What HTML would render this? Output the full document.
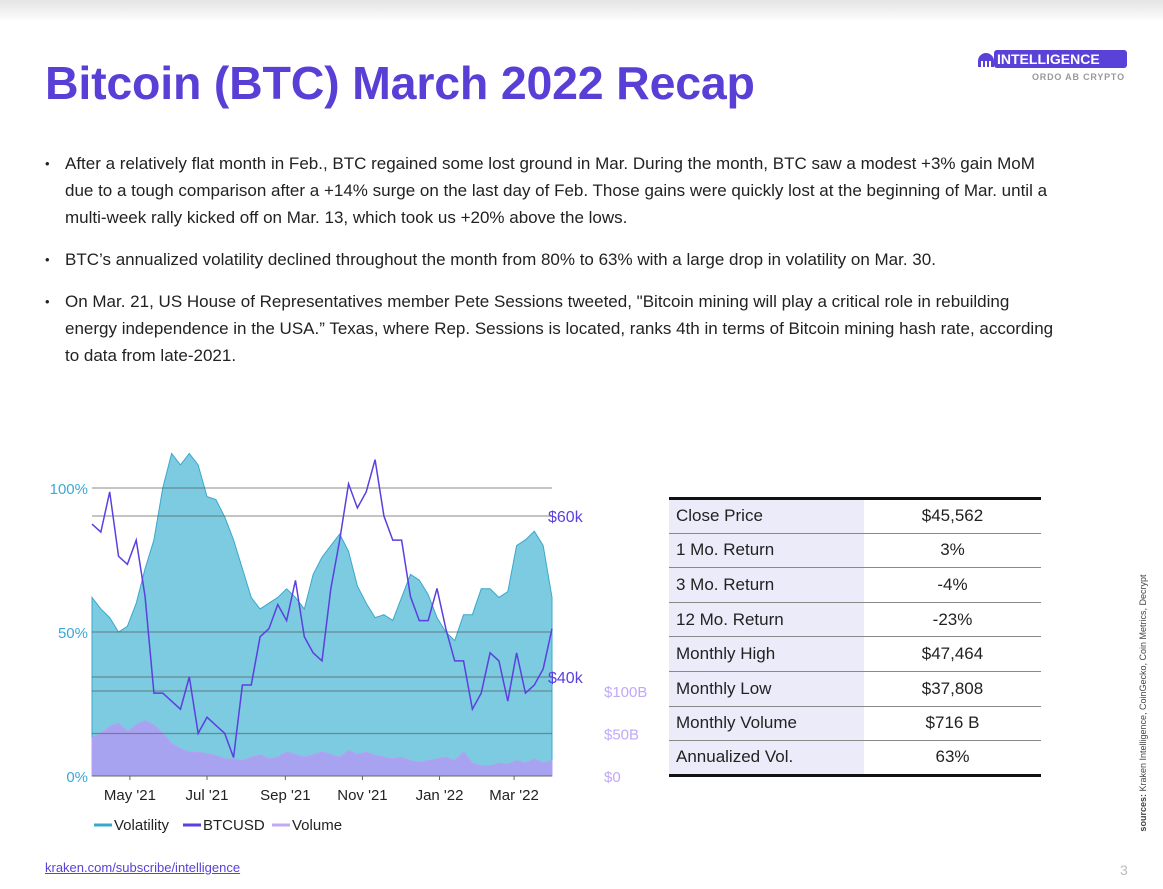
<!DOCTYPE html>
<html><head><meta charset="utf-8">
<style>
*{margin:0;padding:0;box-sizing:border-box}
body{width:1163px;height:889px;background:#fff;position:relative;overflow:hidden;font-family:"Liberation Sans",Arial,sans-serif;color:#222}
.topbar{position:absolute;left:0;top:0;width:1163px;height:22px;background:linear-gradient(#e4e4e4,#fff)}
h1{position:absolute;left:45px;top:56px;font-size:46.5px;font-weight:bold;color:#5a3fd6;letter-spacing:-0.2px}
.logo{position:absolute;left:978px;top:50px}
.logo .badge{position:absolute;left:16px;top:0;background:#5a41d8;color:#fff;font-weight:bold;font-size:14px;padding:0 3px;height:18px;line-height:18px;border-radius:3px;width:133px}
.logo .sub{position:absolute;left:54px;top:22px;font-size:9px;color:#999;font-weight:bold;letter-spacing:0.8px;white-space:nowrap}
ul{position:absolute;left:45px;top:150px;width:1018px;list-style:none;font-size:17px;line-height:27px;color:#222}
ul li{position:relative;padding-left:20px;margin-bottom:15px}
ul li:before{content:"•";position:absolute;left:0;top:0;font-size:13px}
table{position:absolute;left:669px;top:497px;width:372px;border-collapse:collapse;font-size:17px;border-top:3px solid #111;border-bottom:3px solid #111}
td{height:34.6px;border-bottom:1px solid #888;padding:0 0 0 7px}
tr:last-child td{border-bottom:none}
td.l{background:#ecebf9;width:195px}
td.r{text-align:center;padding:0}
.src{position:absolute;left:1143px;top:703px;transform:translate(-50%,-50%) rotate(-90deg);font-size:9px;color:#444;white-space:nowrap}
.foot{position:absolute;left:45px;top:860px;font-size:13px;color:#5a41d8;text-decoration:underline}
.pg{position:absolute;left:1120px;top:862px;font-size:14px;color:#bbb}
</style></head><body>
<div class="topbar"></div>
<h1>Bitcoin (BTC) March 2022 Recap</h1>
<div class="logo">
<svg width="16" height="14" style="position:absolute;left:0;top:3px"><path d="M0 14V8a8 8 0 0 1 16 0v6h-3V8h-2v6H9V8H7v6H5V8H3v6z" fill="#5a41d8"/></svg>
<div class="badge">INTELLIGENCE</div>
<div class="sub">ORDO AB CRYPTO</div>
</div>
<ul>
<li>After a relatively flat month in Feb., BTC regained some lost ground in Mar. During the month, BTC saw a modest +3% gain MoM due to a tough comparison after a +14% surge on the last day of Feb. Those gains were quickly lost at the beginning of Mar. until a multi&#8209;week rally kicked off on Mar. 13, which took us +20% above the lows.</li>
<li>BTC’s annualized volatility declined throughout the month from 80% to 63% with a large drop in volatility on Mar. 30.</li>
<li>On Mar. 21, US House of Representatives member Pete Sessions tweeted, "Bitcoin mining will play a critical role in rebuilding energy independence in the USA.” Texas, where Rep. Sessions is located, ranks 4th in terms of Bitcoin mining hash rate, according to data from late&#8209;2021.</li>
</ul>
<svg id="chart" width="660" height="400" style="position:absolute;left:0;top:450px"></svg>
<table>
<tr><td class="l">Close Price</td><td class="r">$45,562</td></tr>
<tr><td class="l">1 Mo. Return</td><td class="r">3%</td></tr>
<tr><td class="l">3 Mo. Return</td><td class="r">-4%</td></tr>
<tr><td class="l">12 Mo. Return</td><td class="r">-23%</td></tr>
<tr><td class="l">Monthly High</td><td class="r">$47,464</td></tr>
<tr><td class="l">Monthly Low</td><td class="r">$37,808</td></tr>
<tr><td class="l">Monthly Volume</td><td class="r">$716 B</td></tr>
<tr><td class="l">Annualized Vol.</td><td class="r">63%</td></tr>
</table>
<div class="src"><b>sources:</b> Kraken Intelligence, CoinGecko, Coin Metrics, Decrypt</div>
<a class="foot">kraken.com/subscribe/intelligence</a>
<div class="pg">3</div>
<script>
const volatility=[62,58,55,50,52,60,72,82,100,112,108,112,108,97,96,90,82,72,62,58,60,62,65,62,58,70,76,80,84,78,66,60,55,56,54,62,70,68,63,55,50,47,56,56,65,65,62,64,80,82,85,80,62];
const btcPrice=[59,58,63,55,54,57,50,38,38,37,36,40,33,35,34,33,30,39,39,45,46,49,47,52,45,43,42,51,57,64,61,63,67,60,57,57,50,47,47,51,46,42,42,36,38,43,42,37,43,38,39,41,46];
const volume=[45,50,58,62,52,60,65,60,50,38,32,28,28,26,24,20,20,18,22,25,20,22,28,25,22,25,28,25,22,30,25,28,24,22,20,22,18,16,18,20,22,18,28,15,12,12,15,14,18,15,20,15,18];
const monthLabels=["May '21","Jul '21","Sep '21","Nov '21","Jan '22","Mar '22"];
const monthDays=[30,91,153,214,275,334];
const volTicks=[0,50,100];
const priceTicks=[40,60];
const volumeTicks=[0,50,100];
const svg=document.getElementById('chart');
const NS='http://www.w3.org/2000/svg';
const X0=92,X1=552,Y0=326;
const xDay=d=>X0+(X1-X0)*d/364;
const xIdx=i=>xDay(i*364/(volatility.length-1));
const yVol=v=>Y0-v*2.88;
const yPrice=p=>227-(p-40)*8.05;
const yVolume=b=>Y0-b*0.85;
function mk(tag,attrs){const e=document.createElementNS(NS,tag);for(const k in attrs)e.setAttribute(k,attrs[k]);svg.appendChild(e);return e;}
let d='M'+xIdx(0)+','+Y0;volatility.forEach((v,i)=>d+='L'+xIdx(i)+','+yVol(v));d+='L'+xIdx(volatility.length-1)+','+Y0+'Z';
const va=mk('path',{d:d,fill:'#7ccbe0',stroke:'#3aa8cc','stroke-width':1});


d='M'+xIdx(0)+','+Y0;volume.forEach((v,i)=>d+='L'+xIdx(i)+','+yVolume(v));d+='L'+xIdx(volume.length-1)+','+Y0+'Z';
const vo=mk('path',{d:d,fill:'#a8a3f0',stroke:'#b99cf5','stroke-width':1});


const gl=[yVol(100),yPrice(60),yVol(50),yPrice(40),yVolume(100),yVolume(50)];
gl.forEach(y=>{const l=mk('line',{x1:X0,x2:X1,y1:y,y2:y,stroke:'#555','stroke-opacity':0.55,'stroke-width':1.3});

});
d='';btcPrice.forEach((p,i)=>d+=(i?'L':'M')+xIdx(i)+','+yPrice(p));
const pl=mk('path',{d:d,fill:'none',stroke:'#5b3fe0','stroke-width':1.5});


const bl=mk('line',{x1:X0,x2:X1,y1:Y0,y2:Y0,stroke:'#666','stroke-width':1});


function txt(s,x,y,fill,anchor,size){const t=mk('text',{x:x,y:y,fill:fill,'text-anchor':anchor,'font-size':size,'font-family':'Liberation Sans, Arial, sans-serif'});t.textContent=s;return t;}
volTicks.forEach(v=>{const t=txt(v+'%',88,yVol(v)+6,'#3aa8d8','end',15);

});
priceTicks.forEach(p=>{const t=txt('$'+p+'k',548,yPrice(p)+6,'#5b3fe0','start',16);

});
volumeTicks.forEach(b=>{const t=txt(b?'$'+b+'B':'$0',604,yVolume(b)+6,'#c2a8f8','start',15);

});
monthLabels.forEach((m,i)=>{const x=xDay(monthDays[i]);
const k=mk('line',{x1:x,x2:x,y1:Y0,y2:Y0+4,stroke:'#666'});


const t=txt(m,x,Y0+24,'#222','middle',15);

});
const leg=[['Volatility','#3aa8cc',94],['BTCUSD','#5b3fe0',183],['Volume','#c2a8f8',272]];
leg.forEach(([n,c,x])=>{const l=mk('line',{x1:x,x2:x+18,y1:375,y2:375,stroke:c,'stroke-width':3});


const t=txt(n,x+20,380,'#222','start',15);

});
</script>
</body></html>
